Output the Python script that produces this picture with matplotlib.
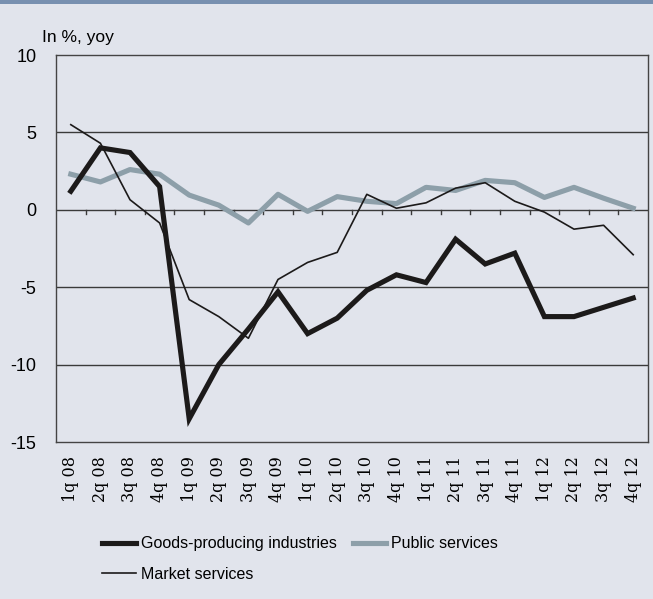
import matplotlib
matplotlib.use('Agg')
import matplotlib.pyplot as plt
import matplotlib.transforms as mtransforms
import numpy as np

quarters = ['1q 08', '2q 08', '3q 08', '4q 08', '1q 09', '2q 09', '3q 09', '4q 09',
            '1q 10', '2q 10', '3q 10', '4q 10', '1q 11', '2q 11', '3q 11', '4q 11',
            '1q 12', '2q 12', '3q 12', '4q 12']
goods = [1.2, 4.0, 3.7, 1.5, -13.5, -10.0, -7.7, -5.3, -8.0, -7.0,
         -5.2, -4.2, -4.7, -1.9, -3.5, -2.8, -6.9, -6.9, -6.3, -5.7]
public = [2.3, 1.8, 2.6, 2.3, 0.95, 0.3, -0.85, 1.0, -0.1, 0.85,
          0.55, 0.4, 1.45, 1.25, 1.9, 1.75, 0.8, 1.45, 0.75, 0.1]
market = [5.5, 4.3, 0.65, -0.85, -5.8, -6.9, -8.3, -4.5, -3.4, -2.75,
          1.0, 0.1, 0.45, 1.4, 1.75, 0.55, -0.15, -1.25, -1.0, -2.9]
y_ticks = [10, 5, 0, -5, -10, -15]

BG = '#e1e4ec'
GRID = '#3a3a3a'
GREY_LINE = '#8d9fa9'

plt.rcParams['font.family'] = ['Liberation Sans', 'DejaVu Sans']

fig = plt.figure(figsize=(6.53, 5.99), dpi=100, facecolor=BG)
ax = fig.add_axes([56 / 653, 1 - 442 / 599, 592 / 653, 387 / 599])
ax.set_facecolor(BG)

# thin band across the top edge
fig.patches.append(plt.Rectangle((0, 1 - 4 / 599), 1, 4 / 599, transform=fig.transFigure,
                                 facecolor='#7890b0', edgecolor='none'))

x = np.arange(len(quarters))
ax.plot(x, goods, color='#1c1a1a', lw=3.7, solid_joinstyle='miter',
        label='Goods-producing industries', zorder=4)
ax.plot(x, market, color='#1c1a1a', lw=1.2, label='Market services', zorder=5)
ax.plot(x, public, color=GREY_LINE, lw=3.7, label='Public services', zorder=3)

ax.set_xlim(-0.5, len(quarters) - 0.5)
ax.set_ylim(-15, 10)
ax.set_yticks(y_ticks)
ax.set_yticklabels([str(v) for v in y_ticks], fontsize=13)
for v in y_ticks[1:-1]:
    ax.axhline(v, color=GRID, lw=1.0, zorder=2)

ax.set_xticks(x)
ax.set_xticklabels(quarters, rotation=90, fontsize=11.5, family=['DejaVu Serif'])
ax.tick_params(axis='x', length=0, pad=10)
ax.tick_params(axis='y', length=0, pad=14)

# small category separators hanging below the zero line
trans = mtransforms.blended_transform_factory(ax.transData, ax.transData)
for b in np.arange(0.5, len(quarters) - 1, 1.0):
    ax.plot([b, b], [0, -0.28], color=GRID, lw=1.0, transform=trans, zorder=2)

for s in ax.spines.values():
    s.set_color('#444444')
    s.set_linewidth(1.0)

fig.text(42 / 653, 1 - 42 / 599, 'In %, yoy', fontsize=12.5, ha='left', va='baseline')

handles, labels = ax.get_legend_handles_labels()
fig.legend(handles, labels, ncol=2, frameon=False, loc='upper left',
           bbox_to_anchor=(88 / 653, 1 - 522 / 599),
           prop={'size': 11.5},
           handlelength=2.1, handletextpad=0.3, columnspacing=1.0, labelspacing=0.95)

fig.savefig('out.png', dpi=100, facecolor=BG)
